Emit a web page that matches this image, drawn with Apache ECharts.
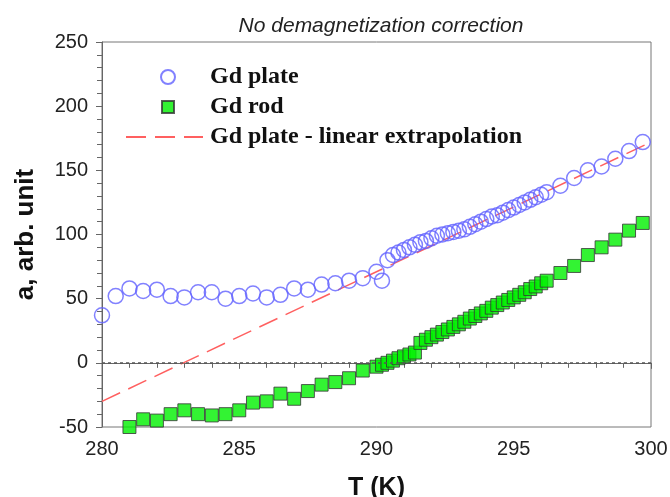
<!DOCTYPE html>
<html>
<head>
<meta charset="utf-8">
<script src="https://cdn.jsdelivr.net/npm/echarts@6/dist/echarts.min.js"></script>
<style>
html,body{margin:0;padding:0;background:#fff;}
#chart{width:670px;height:497px;}
</style>
</head>
<body>
<div id="chart"></div>
<script>
// Gd plate (open circles)
var plateT=[280.0,280.5,281.0,281.5,282.0,282.5,283.0,283.5,284.0,284.5,285.0,285.5,286.0,286.5,287.0,287.5,288.0,288.5,289.0,289.5,
	290.0,290.2,290.4,290.6,290.8,291.0,291.2,291.4,291.6,291.8,292.0,292.2,292.4,292.6,292.8,293.0,293.2,293.4,293.6,293.8,
	294.0,294.2,294.4,294.6,294.8,295.0,295.2,295.4,295.6,295.8,296.0,296.2,296.7,297.2,297.7,298.2,298.7,299.2,299.7];
var plateA=[37,52,58,56,57,52,51,55,55,50,52,54,51,53,58,57,61,62,64,66,
	71,64,80,84,86,88,90,92,94,95,97,99,100,101,102,103,104,106,108,110,
	112,114,115,117,119,121,123,125,127,129,131,133,138,144,150,153,159,165,172];
// Gd rod (filled squares)
var rodT=[281.0,281.5,282.0,282.5,283.0,283.5,284.0,284.5,285.0,285.5,286.0,286.5,287.0,287.5,288.0,288.5,289.0,289.5,
	290.0,290.2,290.4,290.6,290.8,291.0,291.2,291.4,291.6,291.8,292.0,292.2,292.4,292.6,292.8,293.0,293.2,293.4,293.6,293.8,
	294.0,294.2,294.4,294.6,294.8,295.0,295.2,295.4,295.6,295.8,296.0,296.2,296.7,297.2,297.7,298.2,298.7,299.2,299.7];
var rodA=[-50,-44,-45,-40,-37,-40,-41,-40,-37,-31,-30,-24,-28,-22,-17,-15,-12,-6,
	-3,-1.5,0,1.7,3.6,5,6.5,8,15.5,18,20,22,24,26,28,30,32,34.5,36.5,38.5,
	40.5,43,45,47,49,51,53,55,57.5,59.5,62,64,70,75.5,84,90,96,103,109];
// linear extrapolation of the plate data
var extT=[280,300];
var extA=[-30,172];

function pairs(xs,ys){
	var out=[];
	for(var i=0;i<xs.length;i++){
		out.push([xs[i],ys[i]]);
	}
	return out;
}

function legendText(padLeft){
	return {fontFamily:'Liberation Serif',fontWeight:'bold',fontSize:24,color:'#111',padding:[0,0,0,padLeft]};
}

var myChart=echarts.init(document.getElementById('chart'));
var option={
	animation:false,
	backgroundColor:'#fff',
	title:{
		text:'No demagnetization correction',
		left:376,
		top:11,
		textAlign:'center',
		textStyle:{fontFamily:'Liberation Sans',fontStyle:'italic',fontWeight:'normal',fontSize:21,color:'#222'}
	},
	grid:{
		left:102,
		right:19,
		top:42,
		bottom:70,
		outerBoundsMode:'none',
		containLabel:false,
		show:true,
		borderColor:'#777',
		borderWidth:1
	},
	legend:[
		{
			data:['Gd plate'],
			left:160,
			top:65,
			padding:0,
			itemWidth:14,
			itemHeight:14,
			textStyle:legendText(30)
		},
		{
			data:['Gd rod'],
			left:161,
			top:95,
			padding:0,
			itemWidth:12,
			itemHeight:12,
			textStyle:legendText(31)
		},
		{
			data:['Gd plate - linear extrapolation'],
			left:125,
			top:125,
			padding:0,
			itemWidth:77,
			itemHeight:14,
			itemStyle:{opacity:0},
			textStyle:legendText(2)
		}
	],
	xAxis:{
		type:'value',
		min:280,
		max:300,
		interval:5,
		name:'T (K)',
		nameLocation:'middle',
		nameGap:49,
		nameTextStyle:{fontFamily:'Liberation Sans',fontWeight:'bold',fontSize:25,color:'#111'},
		axisLine:{lineStyle:{color:'#666',width:1}},
		axisTick:{show:true,length:6,lineStyle:{color:'#666'}},
		minorTick:{show:true,splitNumber:5,length:5,lineStyle:{color:'#666'}},
		splitLine:{show:false},
		axisLabel:{margin:12,fontFamily:'Liberation Sans',fontSize:20,color:'#222'}
	},
	yAxis:{
		type:'value',
		min:-50,
		max:250,
		interval:50,
		name:'a, arb. unit',
		nameLocation:'middle',
		nameGap:63,
		nameTextStyle:{fontFamily:'Liberation Sans',fontWeight:'bold',fontSize:26,color:'#111'},
		axisLine:{lineStyle:{color:'#666',width:1}},
		axisTick:{show:true,length:6,lineStyle:{color:'#666'}},
		minorTick:{show:true,splitNumber:5,length:5,lineStyle:{color:'#666'}},
		splitLine:{show:false},
		axisLabel:{margin:14,fontFamily:'Liberation Sans',fontSize:20,color:'#222'}
	},
	series:[
		{
			name:'Gd plate - linear extrapolation',
			type:'line',
			data:pairs(extT,extA),
			symbol:'none',
			silent:true,
			lineStyle:{color:'#ff6060',width:1.5,type:[20,9]},
			itemStyle:{color:'#ff6060'},
			markLine:{
				silent:true,
				symbol:'none',
				label:{show:false},
				lineStyle:{color:'#555',width:1.5,type:[3,3]},
				data:[{yAxis:0}]
			},
			z:1
		},
		{
			name:'Gd plate',
			type:'scatter',
			data:pairs(plateT,plateA),
			symbol:'circle',
			symbolSize:15,
			itemStyle:{color:'rgba(255,255,255,0)',borderColor:'#6161ff',borderWidth:1.5},
			z:3
		},
		{
			name:'Gd rod',
			type:'scatter',
			data:pairs(rodT,rodA),
			symbol:'rect',
			symbolSize:13,
			itemStyle:{color:'#00f000',borderColor:'#333',borderWidth:1},
			z:4
		}
	]
};
myChart.setOption(option);
</script>
</body>
</html>
